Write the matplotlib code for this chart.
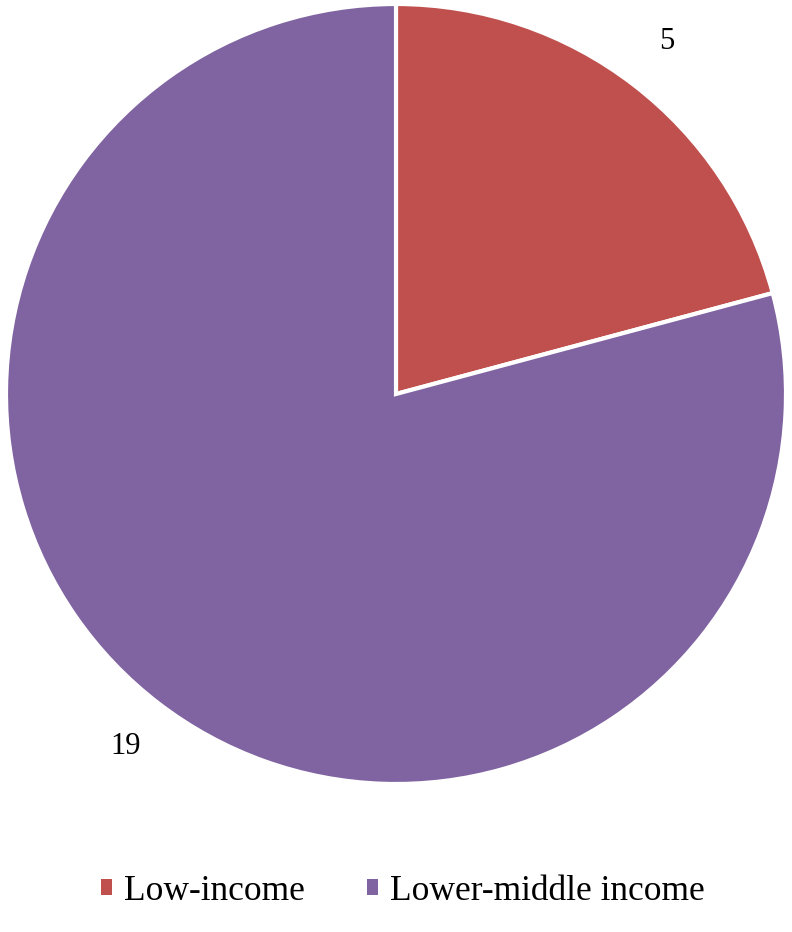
import matplotlib
matplotlib.use("Agg")
import matplotlib.pyplot as plt
from matplotlib.patches import Patch

categories = ["Low-income", "Lower-middle income"]
values = [5, 19]
colors = ["#C0504D", "#8064A2"]

plt.rcParams['font.family'] = ['Liberation Serif', 'DejaVu Serif']

W, H = 792, 932
fig = plt.figure(figsize=(W/100, H/100), dpi=100)
cx, cy, r = 396, 394, 390
ax = fig.add_axes([(cx - r)/W, (H - cy - r)/H, 2*r/W, 2*r/H])
total = sum(values)
wedges, texts, autotexts = ax.pie(
    values, colors=colors, startangle=90, counterclock=False, radius=1,
    wedgeprops=dict(edgecolor="white", linewidth=3),
    autopct=lambda p: f"{round(p*total/100):d}", pctdistance=1.14,
    textprops=dict(fontsize=22, color="black"))
ax.set_xlim(-1, 1)
ax.set_ylim(-1, 1)
ax.set_aspect("equal")
ax.axis("off")

handles = [Patch(facecolor=c, edgecolor="none") for c in colors]
fig.legend(handles, categories, loc="center", bbox_to_anchor=(403/W, 1 - 891/H),
           ncol=2, frameon=False, fontsize=25.5, handlelength=0.3, handleheight=0.3,
           handletextpad=0.35, columnspacing=1.75)

fig.savefig("out.png", dpi=100)
